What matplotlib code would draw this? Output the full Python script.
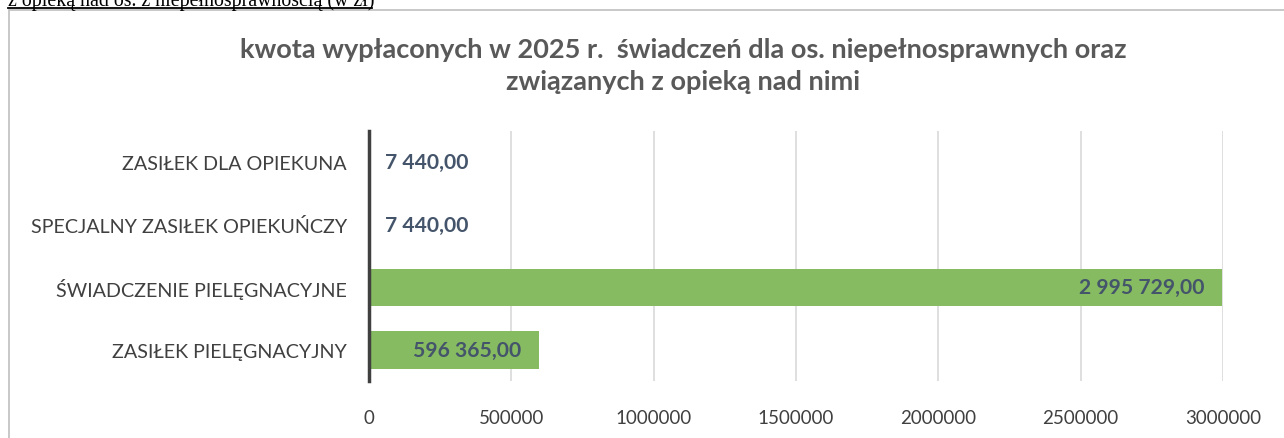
import matplotlib
matplotlib.use("Agg")
import matplotlib.pyplot as plt
from matplotlib.patches import Rectangle
from matplotlib.lines import Line2D

categories = ["ZASIŁEK PIELĘGNACYJNY", "ŚWIADCZENIE PIELĘGNACYJNE",
              "SPECJALNY ZASIŁEK OPIEKUŃCZY", "ZASIŁEK DLA OPIEKUNA"]
values = [596365.00, 2995729.00, 7440.00, 7440.00]
value_labels = ["596 365,00", "2 995 729,00", "7 440,00", "7 440,00"]
xticks = [0, 500000, 1000000, 1500000, 2000000, 2500000, 3000000]

title = ("kwota wypłaconych w 2025 r.  świadczeń dla os. niepełnosprawnych oraz\n"
         "związanych z opieką nad nimi")
header = "z opieką nad os. z niepełnosprawnością (w zł)"

plt.rcParams["font.family"] = ["Lato", "DejaVu Sans"]

fig = plt.figure(figsize=(12.84, 4.39), dpi=100)

# chart frame (cropped screenshot of an Excel chart)
fig.patches.append(Rectangle((9 / 1284, -0.1), 1.2, 1 - 11 / 439 + 0.1,
                             transform=fig.transFigure, fill=False,
                             edgecolor="#BFBFBF", linewidth=1.2))

# text above the chart, cut off at the top
fig.text(8 / 1284, 1 - 6 / 439, header, family="Liberation Serif", fontsize=14.3,
         color="black", ha="left", va="baseline")
fig.lines.append(Line2D([8 / 1284, 372 / 1284], [1 - 9 / 439, 1 - 9 / 439],
                        transform=fig.transFigure, color="black", linewidth=1.3))

fig.text(0.532, 1 - 66 / 439, title, ha="center", va="center", fontsize=19.5,
         fontweight="bold", color="#595959", linespacing=1.35)

ax = fig.add_axes([369 / 1284, 1 - 382 / 439, (1223 - 369) / 1284, 250 / 439])
y = range(len(categories))
ax.barh(y, values, height=0.6, color="#86BB62", zorder=2)

for i, (v, lab) in enumerate(zip(values, value_labels)):
    if v > 200000:
        ax.text(v - 60000, i, lab, ha="right", va="center", fontsize=15.2,
                fontweight="bold", color="#44546A", zorder=3)
    else:
        ax.text(v + 50000, i, lab, ha="left", va="center", fontsize=15.2,
                fontweight="bold", color="#44546A", zorder=3)

ax.set_xlim(0, 3000000)
ax.set_ylim(-0.5, 3.5)
ax.set_xticks(xticks)
ax.set_xticklabels([str(t) for t in xticks])
ax.set_yticks(list(y))
ax.set_yticklabels(categories)
ax.tick_params(axis="x", length=0, labelsize=13.5, labelcolor="#404040", pad=20)
ax.tick_params(axis="y", length=0, labelsize=14.2, labelcolor="#404040", pad=16)
ax.grid(axis="x", color="#D9D9D9", linewidth=1.2, zorder=0)
for s in ["top", "right", "bottom"]:
    ax.spines[s].set_visible(False)
ax.spines["left"].set_color("#404040")
ax.spines["left"].set_linewidth(2.5)
ax.spines["left"].set_zorder(4)

fig.savefig("out.png", dpi=100)
